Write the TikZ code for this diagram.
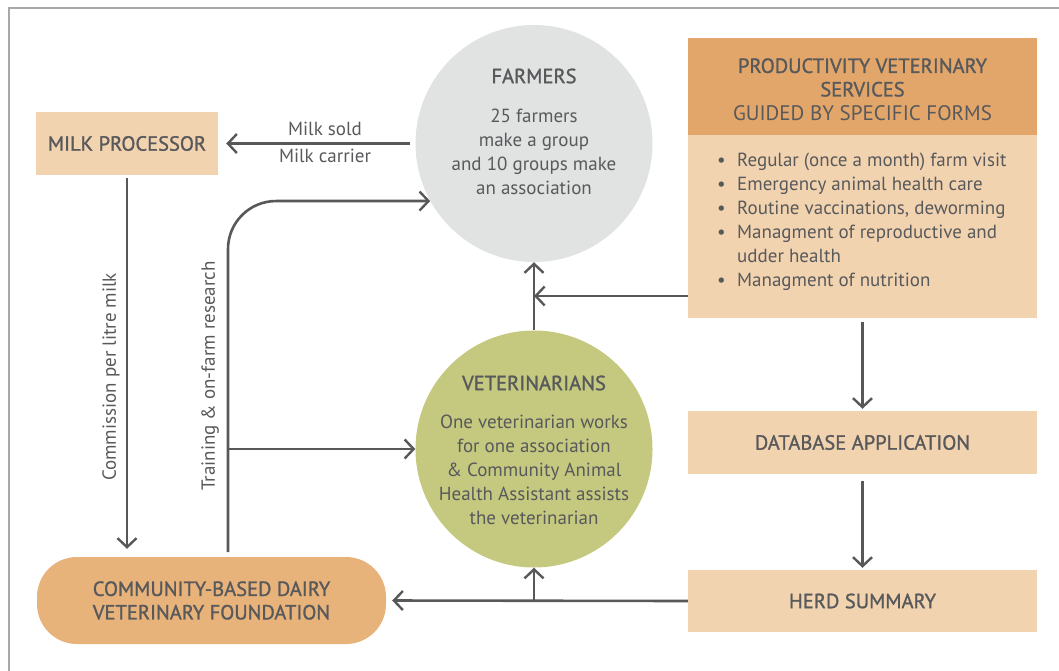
\documentclass[tikz,border=0pt]{standalone}
\usepackage{fontspec}
\setmainfont{PT Sans}
\newfontfamily\medfont[FakeBold=1.2]{PT Sans}
\usetikzlibrary{arrows.meta}
\definecolor{txt}{HTML}{58595B}
\definecolor{lncol}{HTML}{58585A}
\definecolor{peach}{HTML}{F2D3B0}
\definecolor{orangeh}{HTML}{E2A66A}
\definecolor{orangef}{HTML}{E8B27B}
\definecolor{grayc}{HTML}{E1E2E2}
\definecolor{greenc}{HTML}{C5C97F}
\definecolor{framecol}{HTML}{A8A8A8}
\begin{document}
\begin{tikzpicture}[x=1pt,y=-1pt,
  box/.style={fill=peach, minimum width=349pt, inner sep=0pt},
  ttl/.style={text=txt, font=\medfont\fontsize{20.5}{23.5}\selectfont, align=center, inner sep=0pt},
  ttlr/.style={text=txt, font=\fontsize{21}{23.5}\selectfont, align=center, inner sep=0pt},
  bodytxt/.style={text=txt, font=\fontsize{19}{24}\selectfont, align=center, inner sep=0pt},
  arr/.style={draw=lncol, line width=2.6pt, -{Straight Barb[length=9pt,width=19pt,line width=2.4pt]}},
  link/.style={draw=lncol, line width=2.6pt},
  circ/.style={circle, minimum size=237pt, inner sep=0pt}
]
\useasboundingbox (0,0) rectangle (1059,671);
% frame
\draw[framecol, line width=1.2pt] (9,671) -- (9,8) -- (1059,8);

% nodes
\node[box, minimum width=182pt, minimum height=63pt] (milk) at (127,143.5) {};
\node[ttl] (milkT) at (127,143.5) {MILK PROCESSOR};

\node[circ, fill=grayc] (farmers) at (534,143.5) {};
\node[ttl] (farmersT) at (534,76) {FARMERS};
\node[bodytxt, anchor=north] (farmersB) at (534,109) {25 farmers\\make a group\\and 10 groups make\\an association};

\node[box, fill=orangeh, minimum height=97pt] (prodh) at (862.5,86.5) {};
\node[ttl] (prodhT) at (862.5,77.5) {PRODUCTIVITY VETERINARY\\SERVICES};
\node[ttlr] (prodhG) at (862.5,113) {GUIDED BY SPECIFIC FORMS};
\node[box, minimum height=183pt] (prodb) at (862.5,226.5) {};
\node[bodytxt, align=left, anchor=north west] (prodbT) at (717,153) {%
\makebox[20pt][l]{•}Regular (once a month) farm visit\\
\makebox[20pt][l]{•}Emergency animal health care\\
\makebox[20pt][l]{•}Routine vaccinations, deworming\\
\makebox[20pt][l]{•}Managment of reproductive and\\
\makebox[20pt][l]{}udder health\\
\makebox[20pt][l]{•}Managment of nutrition};

\node[circ, fill=greenc] (vet) at (534,449) {};
\node[ttl] (vetT) at (534,383) {VETERINARIANS};
\node[bodytxt, anchor=north] (vetB) at (534,415) {One veterinarian works\\for one association\\\& Community Animal\\Health Assistant assists\\the veterinarian};

\node[box, minimum height=63pt] (db) at (862.5,442.5) {};
\node[ttl] (dbT) at (862.5,442.5) {DATABASE APPLICATION};
\node[box, minimum height=62pt] (herd) at (862.5,601) {};
\node[ttl] (herdT) at (862.5,601) {HERD SUMMARY};

\node[fill=orangef, rounded corners=40pt, minimum width=349pt, minimum height=87pt, inner sep=0pt] (cbdvf) at (211.5,600.5) {};
\node[ttl] (cbdvfT) at (211.5,600.5) {COMMUNITY-BASED DAIRY\\VETERINARY FOUNDATION};

% labels
\node[bodytxt] (sold) at (325,129) {Milk sold};
\node[bodytxt] (carrier) at (325,156) {Milk carrier};
\node[bodytxt, rotate=90] (comm) at (111,377) {Commission per litre milk};
\node[bodytxt, rotate=90] (train) at (210,376) {Training \& on-farm research};

% coordinates
\coordinate (trb) at (228,552);
\coordinate (trm) at (trb |- vet.west);
\coordinate (pj) at (534,296);
\coordinate (hj) at (vet.south |- herd.west);

% connectors
\draw[arr, shorten <=5pt, shorten >=8pt] (farmers.west) -- (milk.east);
\draw[arr, shorten <=3pt, shorten >=8pt] (milk.south) -- (milk.south |- cbdvf.north);
\draw[arr, rounded corners=48pt] (trb) |- (farmers.209);
\draw[arr] (trm) -- (vet.west);
\draw[arr] (prodb.west |- pj) -- (pj);
\draw[arr] (vet.north) -- (farmers.south);
\draw[arr, shorten <=4pt, shorten >=2pt] (prodb.south) -- (db.north);
\draw[arr, shorten <=7pt, shorten >=2pt] (db.south) -- (herd.north);
\draw[arr, shorten >=6pt] (herd.west) -- (cbdvf.east);
\draw[arr] (hj) -- (vet.south);
\end{tikzpicture}
\end{document}
